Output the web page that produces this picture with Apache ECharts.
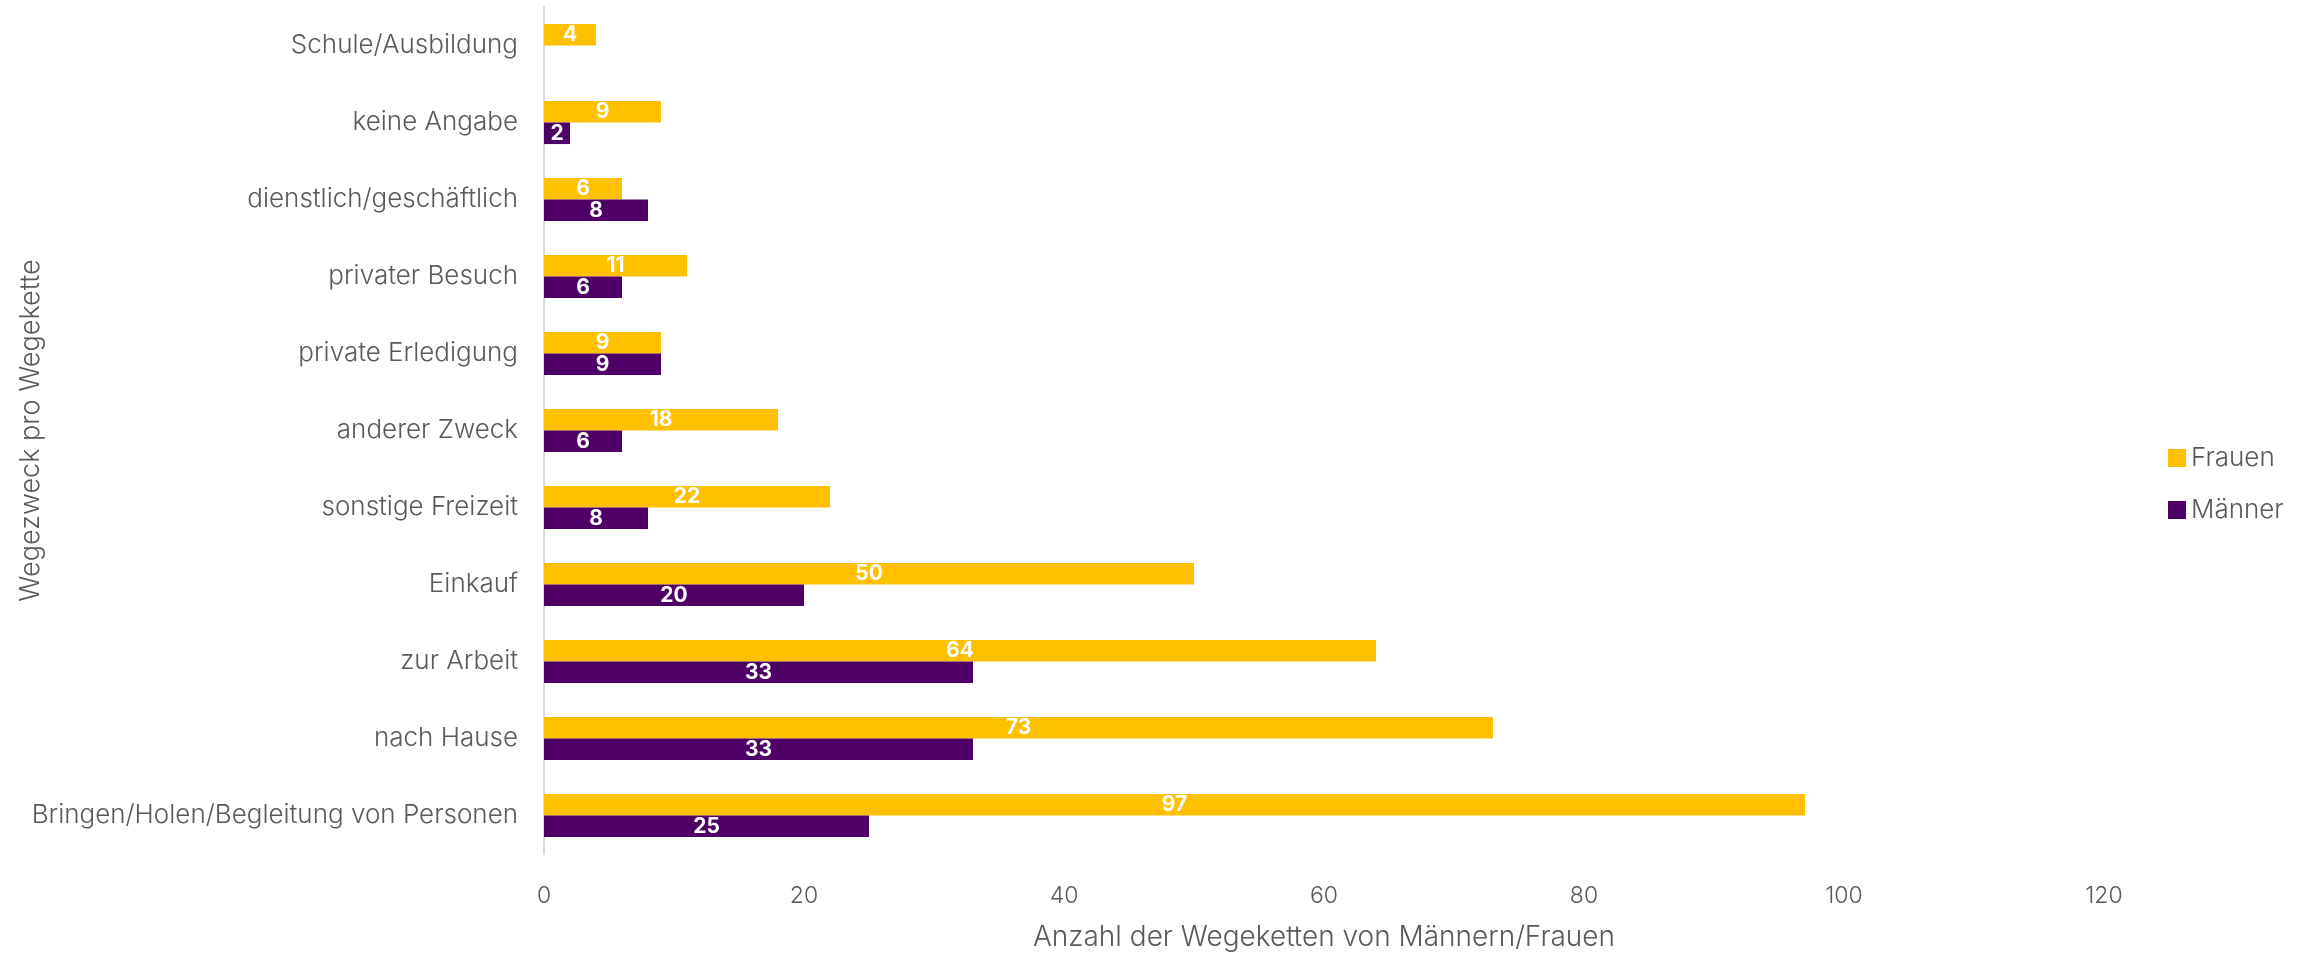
<!DOCTYPE html>
<html>
<head>
<meta charset="utf-8">
<script src="https://cdn.jsdelivr.net/npm/echarts@6/dist/echarts.min.js"></script>
<style>
html,body{margin:0;padding:0;background:#fff;}
#chart{width:2312px;height:954px;}
</style>
</head>
<body>
<div id="chart"></div>
<script>
// Categories from bottom to top
const categories = [
  "Bringen/Holen/Begleitung von Personen",
  "nach Hause",
  "zur Arbeit",
  "Einkauf",
  "sonstige Freizeit",
  "anderer Zweck",
  "private Erledigung",
  "privater Besuch",
  "dienstlich/geschäftlich",
  "keine Angabe",
  "Schule/Ausbildung"
];
const frauen = [97, 73, 64, 50, 22, 18, 9, 11, 6, 9, 4];
const maenner = [25, 33, 33, 20, 8, 6, 9, 6, 8, 2, null];
const xTicks = [0, 20, 40, 60, 80, 100, 120];

const FONT = "Inter";
const chart = echarts.init(document.getElementById('chart'));
const labelStyle = {
  show: true,
  position: 'inside',
  color: '#ffffff',
  fontWeight: 'bold',
  fontSize: 21,
  fontFamily: FONT
};
chart.setOption({
  backgroundColor: '#ffffff',
  animation: false,
  textStyle: { fontFamily: FONT, color: '#595959' },
  grid: { left: 544, right: 208, top: 7, bottom: 100, containLabel: false, outerBoundsMode: 'none' },
  legend: {
    orient: 'vertical',
    left: 2163,
    top: 440,
    data: ['Frauen', 'Männer'],
    itemWidth: 18,
    itemHeight: 18,
    itemGap: 26,
    icon: 'rect',
    textStyle: { fontSize: 26, color: '#595959', fontFamily: FONT, fontWeight: 300 }
  },
  xAxis: {
    type: 'value',
    min: xTicks[0],
    max: xTicks[xTicks.length - 1],
    interval: 20,
    name: 'Anzahl der Wegeketten von Männern/Frauen',
    nameLocation: 'middle',
    nameGap: 70,
    nameMoveOverlap: false,
    nameTextStyle: { fontSize: 28, color: '#595959', fontFamily: FONT, fontWeight: 300 },
    axisLine: { show: false },
    axisTick: { show: false },
    splitLine: { show: false },
    axisLabel: { fontSize: 23, color: '#595959', margin: 31, fontFamily: FONT, fontWeight: 300 }
  },
  yAxis: {
    type: 'category',
    data: categories,
    name: 'Wegezweck pro Wegekette',
    nameLocation: 'middle',
    nameGap: 500,
    nameMoveOverlap: false,
    nameRotate: 90,
    nameTextStyle: { fontSize: 27, color: '#595959', fontFamily: FONT, fontWeight: 300 },
    axisLine: { show: true, lineStyle: { color: '#d9d9d9', width: 2 } },
    axisTick: { show: false },
    axisLabel: { fontSize: 26, color: '#595959', margin: 26, fontFamily: FONT, fontWeight: 300 }
  },
  series: [
    {
      name: 'Frauen',
      type: 'bar',
      data: frauen,
      barGap: '0%',
      barCategoryGap: '44%',
      itemStyle: { color: '#ffc000' },
      label: labelStyle
    },
    {
      name: 'Männer',
      type: 'bar',
      data: maenner,
      barGap: '0%',
      barCategoryGap: '44%',
      itemStyle: { color: '#4f0066' },
      label: labelStyle
    }
  ]
});
</script>
</body>
</html>
